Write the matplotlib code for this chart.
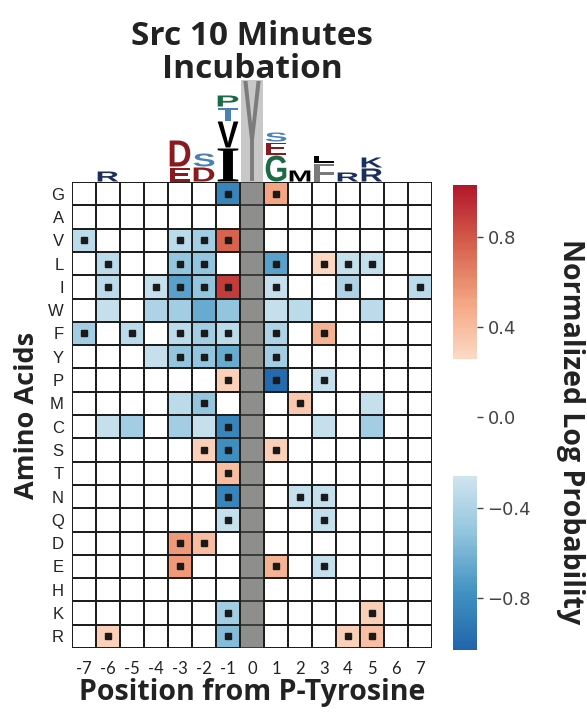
import numpy as np
import matplotlib.pyplot as plt
from matplotlib.colors import ListedColormap, Normalize
from matplotlib.textpath import TextPath
from matplotlib.font_manager import FontProperties
from matplotlib.patches import PathPatch, Rectangle
from matplotlib.transforms import Affine2D

amino = ["G", "A", "V", "L", "I", "W", "F", "Y", "P", "M",
         "C", "S", "T", "N", "Q", "D", "E", "H", "K", "R"]
positions = list(range(-7, 8))

# normalized log probability, rows = amino acids, cols = -7..7
values = [
    [0, 0, 0, 0, 0, 0, -0.85, 0, 0.5, 0, 0, 0, 0, 0, 0],
    [0, 0, 0, 0, 0, 0, 0, 0, 0, 0, 0, 0, 0, 0, 0],
    [-0.35, 0, 0, 0, -0.35, -0.45, 0.75, 0, 0, 0, 0, 0, 0, 0, 0],
    [0, -0.35, 0, 0, -0.5, -0.5, 0, 0, -0.7, 0, 0.28, -0.3, -0.3, 0, 0],
    [0, -0.35, 0, -0.3, -0.7, -0.5, 0.9, 0, -0.3, 0, 0, -0.4, 0, 0, -0.35],
    [0, -0.3, 0, -0.4, -0.45, -0.65, -0.5, 0, -0.3, -0.35, 0, 0, -0.35, 0, 0],
    [-0.45, 0, -0.35, 0, -0.35, -0.45, -0.35, 0, -0.4, 0, 0.45, 0, 0, 0, 0],
    [0, 0, 0, -0.3, -0.5, -0.5, -0.65, 0, -0.45, 0, 0, 0, 0, 0, 0],
    [0, 0, 0, 0, 0, 0, 0.3, 0, -1.0, 0, -0.3, 0, 0, 0, 0],
    [0, 0, 0, 0, -0.35, -0.5, 0, 0, 0, 0.35, 0, 0, -0.3, 0, 0],
    [0, -0.3, -0.45, 0, -0.45, -0.3, -0.85, 0, 0, 0, -0.3, 0, -0.45, 0, 0],
    [0, 0, 0, 0, 0, 0.3, -0.8, 0, 0.3, 0, 0, 0, 0, 0, 0],
    [0, 0, 0, 0, 0, 0, 0.4, 0, 0, 0, 0, 0, 0, 0, 0],
    [0, 0, 0, 0, 0, 0, -0.85, 0, 0, -0.3, -0.3, 0, 0, 0, 0],
    [0, 0, 0, 0, 0, 0, -0.3, 0, 0, 0, -0.3, 0, 0, 0, 0],
    [0, 0, 0, 0, 0.55, 0.4, 0, 0, 0, 0, 0, 0, 0, 0, 0],
    [0, 0, 0, 0, 0.55, 0, 0, 0, 0.45, 0, -0.3, 0, 0, 0, 0],
    [0, 0, 0, 0, 0, 0, 0, 0, 0, 0, 0, 0, 0, 0, 0],
    [0, 0, 0, 0, 0, 0, -0.45, 0, 0, 0, 0, 0, 0.3, 0, 0],
    [0, 0.3, 0, 0, 0, 0, -0.55, 0, 0, 0, 0, 0.3, 0.38, 0, 0],
]

# significant cells (black squares)
dots = {
    "G": [-1, 1], "V": [-7, -3, -2, -1], "L": [-6, -3, -2, 1, 3, 4, 5],
    "I": [-6, -4, -3, -2, -1, 1, 4, 7], "F": [-7, -5, -3, -2, -1, 1, 3],
    "Y": [-3, -2, -1, 1], "P": [-1, 1, 3], "M": [-2, 2], "C": [-1],
    "S": [-2, -1, 1], "T": [-1], "N": [-1, 2, 3], "Q": [-1, 3],
    "D": [-3, -2], "E": [-3, 1, 3], "K": [-1, 5], "R": [-6, -1, 4, 5],
}

# sequence logo, bottom to top: (letter, height)
logo = {
    -6: [("R", 11)],
    -3: [("E", 15), ("D", 27)],
    -2: [("D", 15), ("S", 14)],
    -1: [("I", 34), ("V", 27), ("T", 14), ("P", 12)],
    1: [("G", 27), ("E", 13), ("S", 10)],
    2: [("M", 12)],
    3: [("F", 19), ("L", 8)],
    4: [("R", 10)],
    5: [("R", 14), ("K", 11)],
}
letter_col = {"R": "#1b2f5c", "K": "#1b2f5c", "D": "#8b1a1f", "E": "#8b1a1f",
              "S": "#4a80b4", "T": "#4a80b4", "P": "#1c6b47", "G": "#1c6b47",
              "I": "black", "V": "black", "M": "black", "L": "black", "F": "#7a7a7a"}

W, H = 587, 719
fig = plt.figure(figsize=(W / 100, H / 100), dpi=100)
LBL = dict(fontweight="bold", family="Open Sans", color="#222222")

def rect(x0, y0, x1, y1):
    return [x0 / W, 1 - y1 / H, (x1 - x0) / W, (y1 - y0) / H]

vlim = 1.03
t = np.linspace(-vlim, vlim, 256)
cols = plt.get_cmap("RdBu_r")(0.1 + 0.8 * (t + vlim) / (2 * vlim))
cols[np.abs(t) < 0.26] = [1, 1, 1, 1]
cmap = ListedColormap(cols)
norm = Normalize(-vlim, vlim)

ax = fig.add_axes(rect(72, 182, 432, 648))
data = np.array(values, dtype=float)
mesh = ax.pcolormesh(np.arange(-7.5, 8), np.arange(21), data, cmap=cmap, norm=norm,
                     edgecolors="#1e1e1e", linewidth=1.4)
ax.add_patch(Rectangle((-0.5, 0), 1, 20, facecolor="#8e8e8c", edgecolor="none"))
for i in range(21):
    ax.plot([-0.5, 0.5], [i, i], color="#3a3a3a", lw=1.4)
ax.plot([-0.5, -0.5], [0, 20], color="#1e1e1e", lw=1.4)
ax.plot([0.5, 0.5], [0, 20], color="#1e1e1e", lw=1.4)
for i, aa in enumerate(amino):
    for p in dots.get(aa, []):
        ax.plot(p, i + 0.5, "s", color="#1a1a1a", ms=4.6)
ax.set_xlim(-7.5, 7.5)
ax.set_ylim(20, 0)
ax.set_yticks(np.arange(20) + 0.5)
ax.set_yticklabels(amino, fontsize=12, family="Liberation Sans", color="#222222")
ax.set_xticks(positions)
ax.set_xticklabels([str(p) for p in positions], fontsize=12, family="Lato", color="#222222")
ax.tick_params(length=0, pad=9)
ax.tick_params(axis="y", pad=6)
for s in ax.spines.values():
    s.set_visible(False)
ax.set_xlabel("Position from P-Tyrosine", fontsize=20.5, labelpad=1, **LBL)
ax.set_ylabel("Amino Acids", fontsize=19.5, labelpad=6, **LBL)

# logo
lax = fig.add_axes(rect(72, 80, 432, 182))
lax.set_xlim(-7.5, 7.5)
lax.set_ylim(0, 102)
lax.axis("off")
fp = FontProperties(family="Liberation Sans", weight="bold")
fp_serif = FontProperties(family="Liberation Serif", weight="bold")

def draw_letter(a, ch, x0, y0, w, h, color):
    tp = TextPath((0, 0), ch, size=100, prop=fp_serif if ch == "I" else fp)
    ext = tp.get_extents()
    tr = (Affine2D().translate(-ext.x0, -ext.y0)
          .scale(w / ext.width, h / ext.height).translate(x0, y0))
    a.add_patch(PathPatch(tr.transform_path(tp), facecolor=color, edgecolor="none"))

lax.add_patch(Rectangle((-0.45, 0), 0.9, 102, facecolor="#c8c8c8", edgecolor="none"))
draw_letter(lax, "Y", -0.36, 1, 0.72, 100, "#7c7c7c")
for p, stack in logo.items():
    y = 0
    for ch, h in stack:
        draw_letter(lax, ch, p - 0.43, y + 0.5, 0.86, h - 1, letter_col[ch])
        y += h

# colorbar
cax = fig.add_axes(rect(453, 185, 477, 650))
cb = fig.colorbar(mesh, cax=cax)
cb.outline.set_visible(False)
cb.set_ticks([-0.8, -0.4, 0.0, 0.4, 0.8])
cb.set_ticklabels(["\u22120.8", "\u22120.4", "0.0", "0.4", "0.8"])
cax.tick_params(length=4, width=1, color="#444444", labelsize=13, labelcolor="#444444")
fig.text(570 / W, 1 - 432 / H, "Normalized Log Probability", rotation=270, ha="center",
         va="center", fontsize=20.5, **LBL)

fig.text(252 / W, 1 - 53 / H, "Src 10 Minutes\nIncubation", ha="center", va="center",
         fontsize=24, linespacing=1.0, **LBL)

fig.savefig("out.png", dpi=100)
